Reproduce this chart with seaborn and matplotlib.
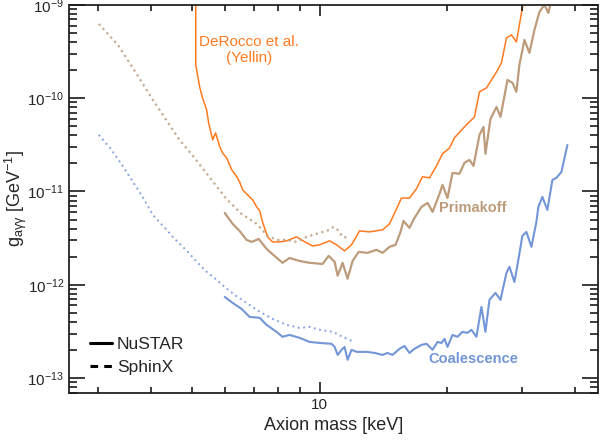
import numpy as np
import pandas as pd
import matplotlib
matplotlib.use("Agg")
import matplotlib.pyplot as plt
import matplotlib.ticker as mticker
from matplotlib.lines import Line2D
import seaborn as sns

sns.set_style("ticks")
plt.rcParams['font.family'] = ['Liberation Sans', 'DejaVu Sans']
plt.rcParams['mathtext.fontset'] = 'custom'
plt.rcParams['mathtext.rm'] = 'Liberation Sans'
plt.rcParams['mathtext.it'] = 'Liberation Sans:italic'
plt.rcParams['mathtext.bf'] = 'Liberation Sans:bold'
plt.rcParams.update({
    'xtick.direction': 'in', 'ytick.direction': 'in',
    'xtick.top': True, 'ytick.right': True,
    'xtick.major.size': 8, 'xtick.minor.size': 4.5,
    'ytick.major.size': 11.5, 'ytick.minor.size': 6,
    'xtick.major.width': 1.2, 'xtick.minor.width': 1.2,
    'ytick.major.width': 1.2, 'ytick.minor.width': 1.2,
    'axes.axisbelow': False,
})

# -----------------------------
# Data (axion mass in keV, coupling in GeV^-1)
# -----------------------------
derocco_m = [5.11, 5.11, 5.22, 5.30, 5.42, 5.48, 5.60, 5.69, 5.82, 5.91, 6.04, 6.21, 6.38,
             6.48, 6.59, 6.77, 6.96, 7.11, 7.23, 7.34, 7.54, 7.75, 8.05, 8.36, 8.83, 9.32,
             9.63, 10.0, 10.56, 10.96, 11.45, 11.89, 12.42, 13.11, 14.07, 14.61, 15.18,
             15.59, 16.28, 16.91, 17.47, 18.15, 18.85, 19.47, 20.23, 20.78, 21.70, 23.16,
             23.80, 24.72, 25.40, 26.10, 26.81, 27.54, 28.30, 29.07, 30.03, 30.53]
derocco_g = [1.5e-9, 2.28e-10, 1.32e-10, 1.01e-10, 7.5e-11, 5.43e-11, 3.57e-11, 4.25e-11,
             3.01e-11, 2.59e-11, 2.29e-11, 1.71e-11, 1.44e-11, 1.27e-11, 1.04e-11, 9.2e-12,
             8.1e-12, 6.84e-12, 6.19e-12, 4.72e-12, 3.26e-12, 2.88e-12, 2.88e-12, 2.96e-12,
             3.26e-12, 2.81e-12, 2.61e-12, 2.68e-12, 2.96e-12, 2.68e-12, 2.31e-12, 2.68e-12,
             3.78e-12, 3.69e-12, 3.88e-12, 4.50e-12, 6.52e-12, 8.5e-12, 8.5e-12, 1.07e-11,
             1.44e-11, 1.40e-11, 1.88e-11, 2.53e-11, 2.93e-11, 3.76e-11, 4.69e-11, 6.31e-11,
             1.17e-10, 1.29e-10, 1.57e-10, 1.91e-10, 2.39e-10, 4.42e-10, 4.77e-10, 4.01e-10,
             9.3e-10, 1.3e-9]

prim_nustar_m = [5.98, 6.24, 6.48, 6.73, 6.92, 7.19, 7.50, 7.88, 8.18, 8.50, 8.97, 9.47,
                 10.16, 10.50, 10.85, 11.03, 11.33, 11.64, 11.96, 12.36, 12.97, 13.62, 14.07,
                 14.61, 15.10, 15.51, 15.76, 16.28, 16.73, 17.38, 17.96, 18.45, 19.16, 19.47,
                 20.01, 20.56, 21.35, 21.94, 22.54, 23.04, 23.80, 24.32, 24.58, 25.26, 26.10,
                 26.67, 27.70, 28.46, 29.07, 29.55, 30.37, 31.20, 32.06, 32.94, 33.84, 34.58,
                 35.34]
prim_nustar_g = [5.90e-12, 4.50e-12, 3.78e-12, 3.03e-12, 2.88e-12, 3.10e-12, 2.43e-12,
                 1.99e-12, 1.72e-12, 1.94e-12, 1.80e-12, 1.72e-12, 1.67e-12, 2.04e-12,
                 1.76e-12, 1.25e-12, 1.72e-12, 1.16e-12, 1.80e-12, 2.25e-12, 2.20e-12,
                 2.37e-12, 2.20e-12, 2.55e-12, 2.68e-12, 3.69e-12, 4.84e-12, 4.07e-12,
                 5.21e-12, 6.84e-12, 7.55e-12, 6.04e-12, 9.42e-12, 1.18e-11, 8.5e-12,
                 1.58e-11, 1.55e-11, 2.03e-11, 2.18e-11, 1.88e-11, 4.05e-11, 4.92e-11,
                 2.53e-11, 6.0e-11, 8.07e-11, 6.31e-11, 1.57e-10, 1.46e-10, 1.17e-10,
                 2.28e-10, 4.21e-10, 3.06e-10, 5.39e-10, 8.41e-10, 1.0e-9, 8.2e-10, 1.3e-9]

prim_sphinx_m = [3.02, 3.35, 3.67, 4.05, 4.37, 4.68, 5.03, 5.45, 6.01, 6.55, 7.11, 7.54,
                 7.92, 8.36, 8.83, 9.32, 10.0, 10.56, 10.79, 11.03, 11.33, 11.77]
prim_sphinx_g = [6.25e-10, 3.73e-10, 1.96e-10, 9.6e-11, 5.71e-11, 3.57e-11, 2.41e-11,
                 1.51e-11, 8.5e-12, 5.75e-12, 4.50e-12, 3.34e-12, 3.03e-12, 3.03e-12,
                 2.88e-12, 3.26e-12, 3.60e-12, 3.88e-12, 4.17e-12, 3.88e-12, 3.26e-12,
                 3.18e-12]

coal_nustar_m = [5.98, 6.24, 6.55, 6.84, 7.23, 7.50, 7.92, 8.18, 8.50, 8.97, 9.47, 10.0,
                 10.67, 10.85, 11.03, 11.27, 11.45, 11.64, 11.89, 12.22, 12.90, 13.48, 14.07,
                 14.45, 14.85, 15.43, 15.85, 16.28, 16.73, 17.38, 17.86, 18.45, 18.96, 19.37,
                 19.69, 20.01, 20.56, 21.12, 21.70, 22.29, 22.78, 23.41, 24.05, 24.58, 25.12,
                 25.95, 26.67, 27.54, 28.00, 28.76, 29.24, 30.03, 30.69, 31.54, 32.40, 32.75,
                 33.47, 34.39, 35.34, 36.12, 37.11, 38.33]
coal_nustar_g = [7.41e-13, 6.40e-13, 5.52e-13, 4.53e-13, 4.42e-13, 3.72e-13, 3.13e-13,
                 2.77e-13, 2.90e-13, 2.70e-13, 2.44e-13, 2.38e-13, 2.33e-13, 2.16e-13,
                 1.77e-13, 2.01e-13, 2.16e-13, 1.57e-13, 2.01e-13, 1.91e-13, 1.91e-13,
                 1.86e-13, 1.77e-13, 1.86e-13, 1.77e-13, 2.06e-13, 2.21e-13, 1.86e-13,
                 2.06e-13, 2.27e-13, 2.33e-13, 2.01e-13, 2.44e-13, 2.38e-13, 2.63e-13,
                 2.16e-13, 2.90e-13, 2.77e-13, 3.13e-13, 3.05e-13, 3.29e-13, 2.77e-13,
                 5.80e-13, 3.13e-13, 6.89e-13, 8.18e-13, 6.89e-13, 1.34e-12, 1.56e-12,
                 1.07e-12, 1.63e-12, 3.34e-12, 3.69e-12, 2.55e-12, 4.72e-12, 6.84e-12,
                 8.75e-12, 6.35e-12, 1.33e-11, 1.40e-11, 1.62e-11, 3.15e-11]

coal_sphinx_m = [3.02, 3.21, 3.40, 3.61, 3.83, 4.05, 4.30, 4.56, 4.87, 5.14, 5.42, 5.72,
                 6.01, 6.31, 6.73, 7.23, 7.75, 8.36, 8.97, 9.47, 10.0, 10.73, 11.33, 11.89]
coal_sphinx_g = [4.05e-11, 2.93e-11, 2.03e-11, 1.33e-11, 8.75e-12, 5.61e-12, 4.17e-12,
                 3.10e-12, 2.31e-12, 1.76e-12, 1.38e-12, 1.13e-12, 9.27e-13, 7.80e-13,
                 6.40e-13, 5.13e-13, 4.31e-13, 3.72e-13, 3.45e-13, 3.54e-13, 3.29e-13,
                 3.13e-13, 2.77e-13, 2.51e-13]

c_orange = '#ff7a1f'
c_tan = '#bd9c7c'
c_blue = '#7396d8'

# -----------------------------
# Figure
# -----------------------------
fig = plt.figure(figsize=(6, 4.46), dpi=100)
ax = fig.add_axes([0.115, 0.119, 0.882, 0.87])

sns.lineplot(x=derocco_m, y=derocco_g, ax=ax, color=c_orange, lw=1.1,
             estimator=None, sort=False)
sns.lineplot(x=prim_sphinx_m, y=prim_sphinx_g, ax=ax, color=c_tan, lw=1.6, alpha=0.85,
             linestyle=(0, (1.0, 1.6)), estimator=None, sort=False)
sns.lineplot(x=coal_sphinx_m, y=coal_sphinx_g, ax=ax, color=c_blue, lw=1.4, alpha=0.85,
             linestyle=(0, (1.0, 1.8)), estimator=None, sort=False)
sns.lineplot(x=prim_nustar_m, y=prim_nustar_g, ax=ax, color=c_tan, lw=1.6,
             estimator=None, sort=False)
sns.lineplot(x=coal_nustar_m, y=coal_nustar_g, ax=ax, color=c_blue, lw=1.5,
             estimator=None, sort=False)

ax.set_xscale('log')
ax.set_yscale('log')
ax.set_xlim(2.57, 45.3)
ax.set_ylim(6.93e-14, 1e-9)

ax.xaxis.set_major_locator(mticker.FixedLocator([10]))
ax.xaxis.set_major_formatter(mticker.FixedFormatter(['10']))
ax.xaxis.set_minor_locator(mticker.LogLocator(base=10, subs=np.arange(2, 10)))
ax.yaxis.set_major_locator(mticker.LogLocator(base=10, numticks=20))
ax.yaxis.set_minor_locator(mticker.LogLocator(base=10, subs=np.arange(2, 10), numticks=20))
ax.xaxis.set_minor_formatter(mticker.NullFormatter())
ax.yaxis.set_minor_formatter(mticker.NullFormatter())

ax.tick_params(axis='both', which='both', direction='in', top=True, right=True,
               bottom=True, left=True, color='#1a1a1a', width=1.2)
ax.tick_params(axis='both', which='major', labelsize=11)
ax.tick_params(axis='y', which='major', length=11.5)
ax.tick_params(axis='y', which='minor', length=6)
ax.tick_params(axis='x', which='major', length=8)
ax.tick_params(axis='x', which='minor', length=4.5)
ax.set_axisbelow(False)
for s in ax.spines.values():
    s.set_linewidth(1.4)
    s.set_color('#333333')

ax.set_xlabel('Axion mass [keV]', fontsize=13)
ax.set_ylabel(r'g$_{\mathrm{aγγ}}$ [GeV$^{-1}$]', fontsize=13, labelpad=-1)

ax.text(6.81, 3.29e-10, 'DeRocco et al.\n(Yellin)', color=c_orange, fontsize=11,
        ha='center', va='center', multialignment='center')
ax.text(22.97, 6.67e-12, 'Primakoff', color=c_tan, fontsize=10.5, fontweight='bold',
        ha='center', va='center')
ax.text(23.04, 1.61e-13, 'Coalescence', color=c_blue, fontsize=10.5, fontweight='bold',
        ha='center', va='center')

handles = [Line2D([], [], color='black', lw=2.2, linestyle='-'),
           Line2D([], [], color='black', lw=2.2, linestyle=(0, (2.5, 2.0)))]
ax.legend(handles, ['NuSTAR', 'SphinX'], loc='lower left', bbox_to_anchor=(0.01, 0.005),
          frameon=False, fontsize=12.5, handlelength=1.3, handletextpad=0.25,
          labelspacing=0.45)

plt.savefig('out.png', dpi=100)
plt.close()
